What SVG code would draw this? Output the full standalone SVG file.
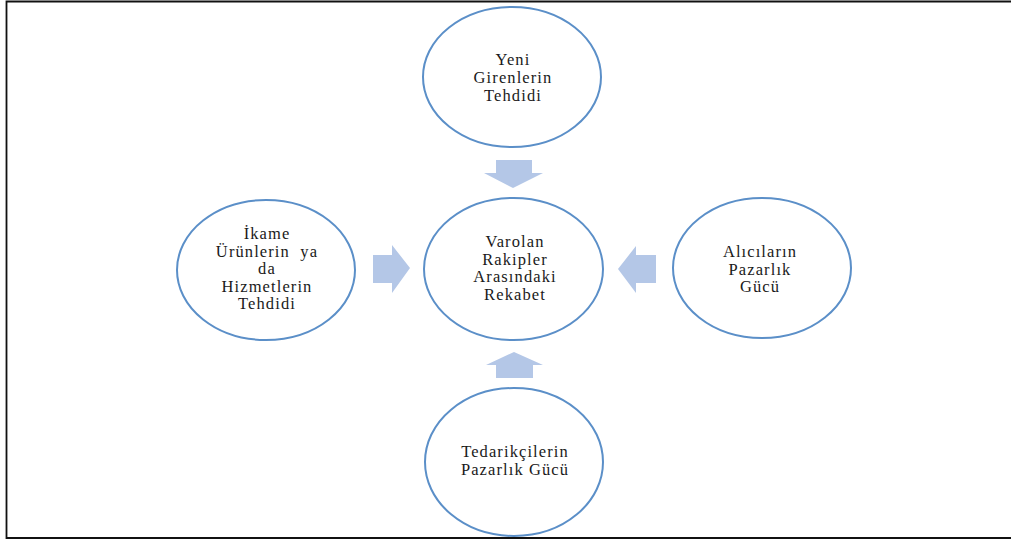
<svg xmlns="http://www.w3.org/2000/svg" width="1011" height="540" viewBox="0 0 1011 540">
<style>
.node ellipse{fill:#fff;stroke:#5b8fc8;stroke-width:2}
.node text{font-size:16.5px;letter-spacing:1.1px;fill:#1a1a1a;text-anchor:middle;white-space:pre}
.arrow{fill:#b4c7e7}
</style>
<rect width="1011" height="540" fill="#fff"/>
<path d="M1011,1.5 H6.5 V538 H1011" fill="none" stroke="#111" stroke-width="1.8"/>
<g id="connectors">
<path class="arrow" d="M496,160 H532 V173 H543 L513,188 L484,173 H496 Z"/>
<path class="arrow" d="M496,378 H533 V365 H543 L514,352 L486,365 H496 Z"/>
<path class="arrow" d="M373,255 H392 V245 L410,268 L392,293 V283 H373 Z"/>
<path class="arrow" d="M656,255 H636 V246 L618,269 L636,293 V283 H656 Z"/>
</g>
<g font-family="'Liberation Serif', 'Times New Roman', serif">
<g id="top" class="node">
<ellipse cx="512" cy="77" rx="89" ry="70"/>
<text x="513" y="65">Yeni</text>
<text x="513" y="83">Girenlerin</text>
<text x="513" y="100.5">Tehdidi</text>
</g>
<g id="center" class="node">
<ellipse cx="513.5" cy="269" rx="89.5" ry="71"/>
<text x="515" y="247">Varolan</text>
<text x="515" y="264.5">Rakipler</text>
<text x="515" y="282">Arasındaki</text>
<text x="515" y="299.5">Rekabet</text>
</g>
<g id="left" class="node">
<ellipse cx="266" cy="270" rx="89" ry="70"/>
<text x="267" y="239">İkame</text>
<text x="267" y="256.5">Ürünlerin  ya</text>
<text x="267" y="274">da</text>
<text x="267" y="291.5">Hizmetlerin</text>
<text x="267" y="309">Tehdidi</text>
</g>
<g id="right" class="node">
<ellipse cx="762" cy="268" rx="89" ry="70"/>
<text x="760" y="256.5">Alıcıların</text>
<text x="760" y="274.5">Pazarlık</text>
<text x="760" y="292">Gücü</text>
</g>
<g id="bottom" class="node">
<ellipse cx="514" cy="462" rx="89" ry="74"/>
<text x="515" y="457">Tedarikçilerin</text>
<text x="515" y="475">Pazarlık Gücü</text>
</g>
</g>
</svg>
